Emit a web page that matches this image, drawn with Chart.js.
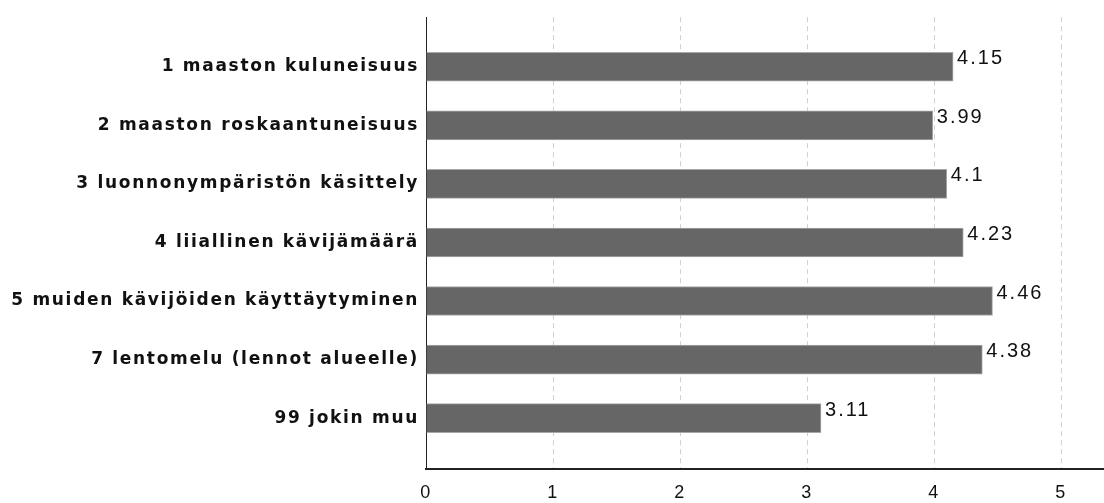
<!DOCTYPE html>
<html>
<head>
<meta charset="utf-8">
<script src="https://cdn.jsdelivr.net/npm/chart.js@4/dist/chart.umd.min.js"></script>
<style>
  html, body { margin: 0; padding: 0; background: #fff; }
  #c { display: block; }
</style>
</head>
<body>
<canvas id="c" width="1104" height="503"></canvas>
<script>
const categories = [
  "1 maaston kuluneisuus",
  "2 maaston roskaantuneisuus",
  "3 luonnonympäristön käsittely",
  "4 liiallinen kävijämäärä",
  "5 muiden kävijöiden käyttäytyminen",
  "7 lentomelu (lennot alueelle)",
  "99 jokin muu"
];
const values = [4.15, 3.99, 4.1, 4.23, 4.46, 4.38, 3.11];
const xTicks = [0, 1, 2, 3, 4, 5];

const points = values.map((v, i) => ({ x: v, y: i + 1 }));

const valueLabels = {
  id: 'valueLabels',
  afterDatasetsDraw(chart) {
    const ctx = chart.ctx;
    const meta = chart.getDatasetMeta(0);
    ctx.save();
    ctx.font = '20px "Liberation Sans", Arial, sans-serif';
    ctx.letterSpacing = '2px';
    ctx.fillStyle = '#111';
    ctx.textAlign = 'left';
    ctx.textBaseline = 'middle';
    meta.data.forEach((bar, i) => {
      ctx.fillText(String(values[i]), bar.x + 4, bar.y - 8);
    });
    ctx.restore();
  }
};

const spacing = {
  id: 'spacing',
  beforeDraw(chart) {
    chart.ctx.letterSpacing = '1.7px';
  }
};

new Chart(document.getElementById('c'), {
  type: 'bar',
  data: {
    datasets: [{
      data: points,
      backgroundColor: '#666666',
      borderColor: '#a8a8a8',
      borderWidth: { top: 1, bottom: 1, right: 1, left: 0 },
      borderSkipped: false,
      barThickness: 29
    }]
  },
  options: {
    indexAxis: 'y',
    responsive: false,
    animation: false,
    devicePixelRatio: 1,
    layout: { padding: { top: 15, right: 0, bottom: 0, left: 0 } },
    plugins: { legend: { display: false }, tooltip: { enabled: false } },
    scales: {
      x: {
        type: 'linear',
        min: 0,
        max: 5.338,
        afterBuildTicks: (s) => { s.ticks = xTicks.map(v => ({ value: v })); },
        afterFit: (s) => { s.height = 34; },
        grid: {
          drawTicks: false,
          color: (c) => c.tick && c.tick.value === 0 ? 'rgba(0,0,0,0)' : '#d0d0d0',
          lineWidth: 1
        },
        border: { display: true, color: '#222', width: 2, dash: [5, 4] },
        ticks: {
          padding: 13,
          color: '#111',
          font: { family: '"Liberation Sans", Arial, sans-serif', size: 18 }
        }
      },
      y: {
        type: 'linear',
        reverse: true,
        offset: false,
        min: 0.154,
        max: 7.868,
        afterBuildTicks: (s) => { s.ticks = categories.map((_, i) => ({ value: i + 1 })); },
        afterFit: (s) => { s.width = 426; },
        grid: { display: false, drawTicks: false, offset: false },
        border: { display: true, color: '#222', width: 1 },
        ticks: {
          padding: 7,
          color: '#111',
          autoSkip: false,
          font: { family: '"DejaVu Sans", sans-serif', size: 17, weight: 'bold' },
          callback: (v) => categories[v - 1]
        }
      }
    }
  },
  plugins: [spacing, valueLabels]
});
</script>
</body>
</html>
